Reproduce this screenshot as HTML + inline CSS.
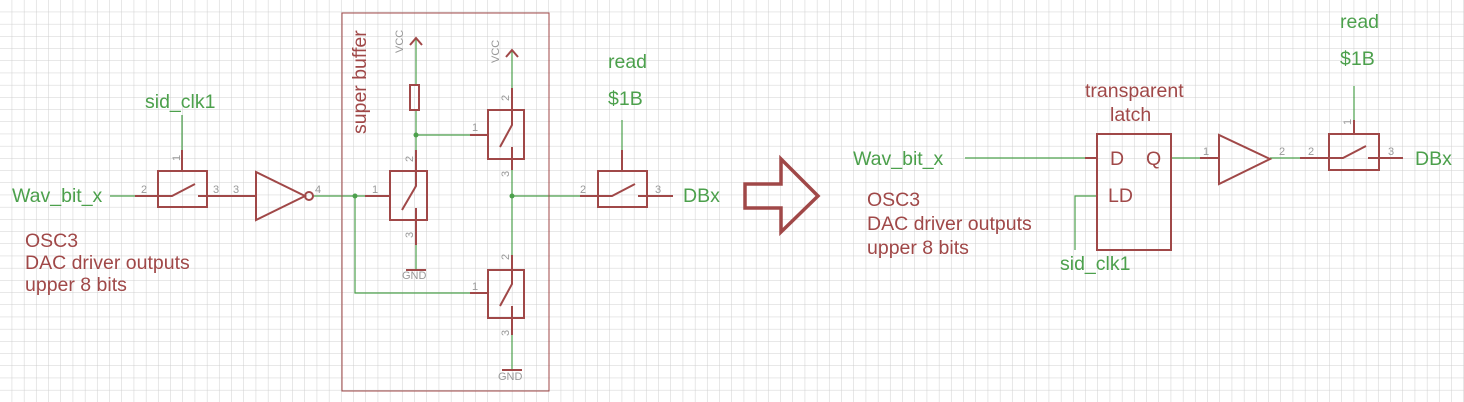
<!DOCTYPE html>
<html><head><style>body{margin:0;background:#fff}svg{display:block}</style></head><body>
<svg width="1464" height="402" xmlns="http://www.w3.org/2000/svg" font-family="Liberation Sans, sans-serif">
<defs><pattern id="g" width="12.2" height="12.2" patternUnits="userSpaceOnUse"><path d="M12.2 0V12.2H0" fill="none" stroke="#cfcfcf" stroke-width="1"/></pattern></defs>
<rect width="1464" height="402" fill="#fff"/>
<rect width="1464" height="402" fill="url(#g)"/>
<g stroke="#4ca04c" stroke-width="1.2" fill="none">
<path d="M110 196H135M182 115V150M313 196H365M355 196V293H470M416 38V85M416 110V150M416 135H470M416 245V270M512 50V88M512 170V255M512 335V370M512 196H580M622 120V150"/>
<path d="M965 158H1085M1098 196H1075V250M1171 158H1200M1270 158H1300M1354 86V120"/>
</g>
<g fill="#4ca04c"><circle cx="355" cy="196" r="2.5"/><circle cx="416" cy="135" r="2.5"/><circle cx="512" cy="196" r="2.5"/></g>
<g stroke="#a04848" stroke-width="2" fill="none">
<path d="M135 196H172L195 184M198 196H255M182 150V170"/>
<rect x="158" y="171" width="49" height="36"/>
<path d="M256 172V220L305 196Z"/><circle cx="309" cy="196" r="4"/>
<rect x="342" y="13" width="207" height="378" stroke-width="1"/>
<path d="M365 196H390M416 150V171M416 220V245M470 135H488M470 293H488M512 88V110M512 159V170M512 255V270M512 318V335M580 196H598M647 196H673M622 150V170"/>
<path d="M410 45L416 38L422 45M506 57L512 50L518 57M406 270H426M502 370H522"/>
<rect x="410" y="85" width="9" height="25"/>
<rect x="390" y="171" width="37" height="49"/><path d="M416 171V186L402 210M416 208V220"/>
<rect x="488" y="110" width="36" height="49"/><path d="M512 110V125L500 147M512 147V159"/>
<rect x="488" y="270" width="36" height="48"/><path d="M512 270V284L500 306M512 306V318"/>
<rect x="598" y="171" width="49" height="36"/><path d="M598 196H612L635 184M638 196H647"/>
<path d="M745 184H781V159L818 196L781 232V208H745Z" stroke-width="3.5"/>
<path d="M1085 158H1097M1200 158H1219M1219 135V184L1270 159ZM1300 158H1343L1366 146M1368 158H1403M1354 120V134"/>
<rect x="1097" y="134" width="74" height="116"/>
<rect x="1329" y="134" width="50" height="36"/>
</g>
<g fill="#999" font-size="11">
<text x="141" y="193">2</text><text x="213" y="193">3</text><text x="233" y="193">3</text><text x="315" y="193">4</text><text x="173" y="160" transform="rotate(-90 177 157)">1</text>
<text x="372" y="193">1</text><text x="472" y="131">1</text><text x="472" y="290">1</text><text x="580" y="193">2</text><text x="655" y="193">3</text>
<text transform="translate(413 162) rotate(-90)">2</text>
<text transform="translate(413 238) rotate(-90)">3</text>
<text transform="translate(509 101) rotate(-90)">2</text>
<text transform="translate(509 177) rotate(-90)">3</text>
<text transform="translate(509 260) rotate(-90)">2</text>
<text transform="translate(509 336) rotate(-90)">3</text>
<text transform="translate(1351 125) rotate(-90)">1</text>
<text x="1203" y="155">1</text><text x="1279" y="155">2</text><text x="1308" y="155">2</text><text x="1388" y="155">3</text>
<text x="402" y="279" font-size="11">GND</text><text x="498" y="380" font-size="11">GND</text>
<text x="403" y="53" font-size="11" transform="rotate(-90 403 53)">VCC</text>
<text x="499" y="63" font-size="11" transform="rotate(-90 499 63)">VCC</text>
</g>
<g fill="#4ca04c" font-size="19.5">
<text x="12" y="202">Wav_bit_x</text><text x="145" y="108">sid_clk1</text>
<text x="608" y="68">read</text><text x="608" y="105">$1B</text><text x="683" y="202">DBx</text>
<text x="853" y="165">Wav_bit_x</text><text x="1060" y="270">sid_clk1</text>
<text x="1340" y="28">read</text><text x="1340" y="65">$1B</text><text x="1415" y="165">DBx</text>
</g>
<g fill="#a04848" font-size="19.5">
<text x="25" y="247">OSC3</text><text x="25" y="269">DAC driver outputs</text><text x="25" y="291">upper 8 bits</text>
<text x="867" y="206">OSC3</text><text x="867" y="230">DAC driver outputs</text><text x="867" y="254">upper 8 bits</text>
<text x="1085" y="97">transparent</text><text x="1110" y="121">latch</text>
<text x="1110" y="165">D</text><text x="1146" y="165">Q</text><text x="1108" y="202">LD</text>
<text x="366" y="134" transform="rotate(-90 366 134)">super buffer</text>
</g>
</svg>
</body></html>
